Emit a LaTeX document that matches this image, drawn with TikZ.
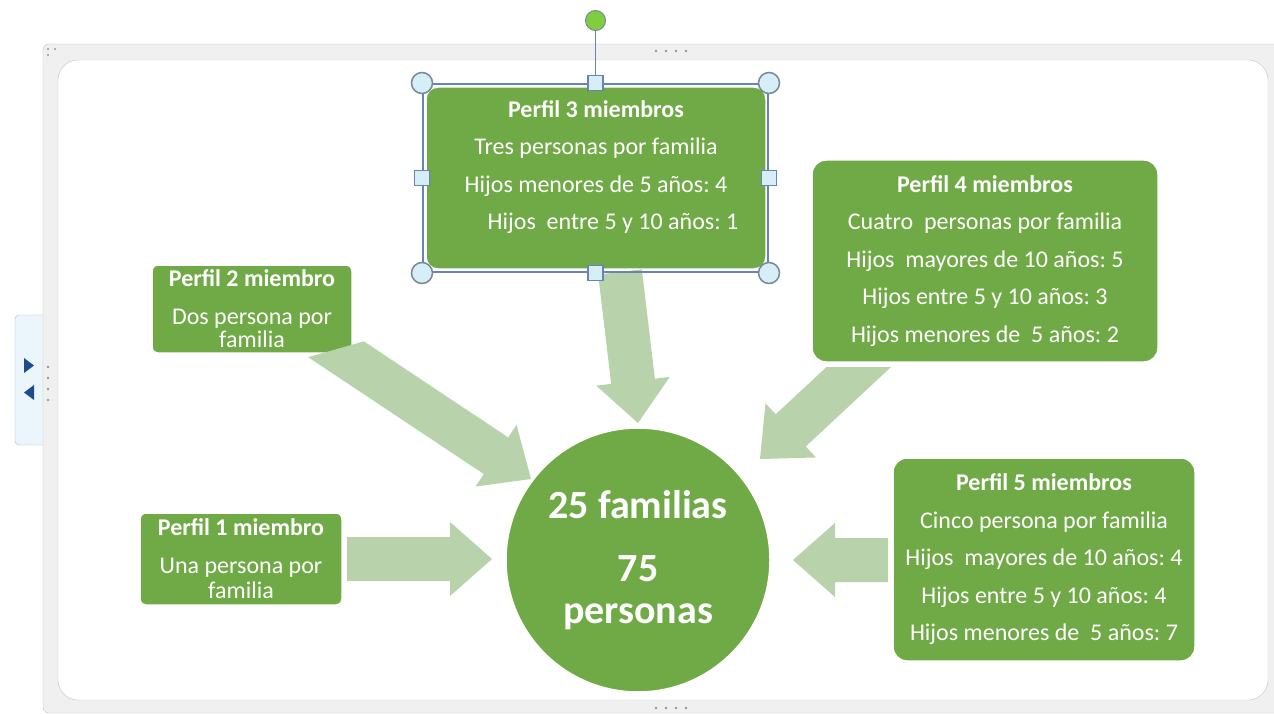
\documentclass[tikz,border=0pt]{standalone}
\usepackage{fontspec}
\setmainfont{Carlito}
\usetikzlibrary{positioning,calc}
\frenchspacing

\definecolor{boxgreen}{RGB}{112,170,70}
\definecolor{arrowgreen}{RGB}{184,210,171}
\definecolor{bandgray}{RGB}{240,240,240}
\definecolor{edgegray}{RGB}{196,196,196}
\definecolor{dotgray}{RGB}{150,150,150}
\definecolor{selblue}{RGB}{104,132,180}
\definecolor{handlefill}{RGB}{214,238,248}
\definecolor{handleedge}{RGB}{120,136,150}
\definecolor{tabfill}{RGB}{234,246,251}
\definecolor{tabedge}{RGB}{168,190,205}
\definecolor{tabblue}{RGB}{28,76,140}
\definecolor{rotgreen}{RGB}{128,206,64}

\newcommand\perfilfont{\fontsize{24}{37.5}\selectfont}
\newcommand\hubfont{\fontsize{40}{42}\selectfont\bfseries}

% block arrow from #1 to the tip #2
\newcommand\blockarrow[2]{%
  \coordinate (hb) at ($(#2)!42pt!(#1)$);
  \fill[arrowgreen] ($(#1)!22pt!90:(#2)$) -- ($(hb)!22pt!90:(#2)$)
    -- ($(hb)!37pt!90:(#2)$) -- (#2) -- ($(hb)!37pt!-90:(#2)$)
    -- ($(hb)!22pt!-90:(#2)$) -- ($(#1)!22pt!-90:(#2)$) -- cycle;
}

\begin{document}
\begin{tikzpicture}[x=1pt, y=-1pt,
    perfil/.style={rounded corners=12pt, fill=boxgreen, draw=white, line width=1.5pt,
      inner sep=0pt, text=white, align=center, font=\perfilfont},
    perfil text/.style={text=white, align=center, inner sep=0pt, font=\perfilfont},
    hub/.style={circle, fill=boxgreen, draw=white, line width=1.5pt, minimum size=264pt,
      inner sep=0pt, text=white, align=center, font=\hubfont},
    selframe/.style={draw=selblue, line width=2pt, inner sep=0pt},
    cornerhandle/.style={circle, draw=handleedge, fill=handlefill, line width=1.5pt,
      minimum size=21pt, inner sep=0pt},
    sidehandle/.style={draw=selblue, fill=handlefill, line width=1.5pt,
      minimum size=15pt, inner sep=0pt},
    rothandle/.style={circle, draw=handleedge, fill=rotgreen, line width=1pt,
      minimum size=20pt, inner sep=0pt}
  ]
  \useasboundingbox (0,0) rectangle (1274,714);
  \clip (0,0) rectangle (1274,714);
  \fill[white] (0,0) rectangle (1274,714);

  % side tab and frame
  \filldraw[fill=tabfill, draw=tabedge, rounded corners=4pt] (15,315) rectangle (50,445);
  \fill[tabblue] (24,358) -- (34,365.5) -- (24,373) -- cycle;
  \fill[tabblue] (34,385) -- (24,392.5) -- (34,400) -- cycle;
  \filldraw[fill=bandgray, draw=edgegray, rounded corners=6pt] (43,44) rectangle (1290,713);
  \filldraw[fill=white, draw=edgegray, rounded corners=20pt] (58,60) rectangle (1268,700);
  \foreach \x in {656,666,676,686} {
    \fill[dotgray] (\x,51) circle (1.3);
    \fill[dotgray] (\x,708) circle (1.3);
  }
  \foreach \y in {367,378,389,400}
    \fill[dotgray] (48,\y) circle (1.3);
  \fill[dotgray] (48,49) circle (1.2) (55,49) circle (1.2) (48,55) circle (1.2);

  % profiles
  \node[perfil, rounded corners=6pt, minimum width=202pt, minimum height=92pt] (p1) at (241,559)
    {\textbf{Perfil 1 miembro}\\Una persona por\\[-12pt]familia};
  \node[perfil, rounded corners=6pt, minimum width=200pt, minimum height=88pt] (p2) at (252,309)
    {\textbf{Perfil 2 miembro}\\Dos persona por\\[-14pt]familia};
  \node[perfil, minimum width=340pt, minimum height=182pt] (p3) at (596,178) {};
  \node[perfil text, below=14pt of p3.north] (p3 text)
    {\textbf{Perfil 3 miembros}\\Tres personas por familia\\Hijos menores de 5 años: 4\\
     \hspace*{34pt}Hijos~ entre 5 y 10 años: 1};
  \node[perfil, rounded corners=14pt, minimum width=346pt, minimum height=202pt] (p4) at (985,261)
    {\textbf{Perfil 4 miembros}\\Cuatro~ personas por familia\\Hijos~ mayores de 10 años: 5\\
     Hijos entre 5 y 10 años: 3\\Hijos menores de~ 5 años: 2};
  \node[perfil, rounded corners=14pt, minimum width=302pt, minimum height=203pt] (p5) at (1044,559.5)
    {\textbf{Perfil 5 miembros}\\Cinco persona por familia\\Hijos~ mayores de 10 años: 4\\
     Hijos entre 5 y 10 años: 4\\Hijos menores de~ 5 años: 7};
  \node[hub] (total) at (638,560) {25 familias\\[21pt]75\\personas};

  % arrows into the circle
  \coordinate (a1s) at (347,559);
  \coordinate (a1t) at (492,559);
  \coordinate (a2s) at (298,324);
  \coordinate (a2t) at (531,479);
  \coordinate (a3s) at (620,272);
  \coordinate (a3t) at (638,423);
  \coordinate (a4s) at (877,350);
  \coordinate (a4t) at (760,459);
  \coordinate (a5s) at (888,560);
  \coordinate (a5t) at (793,560);
  \blockarrow{a1s}{a1t}
  \begin{scope}
    \clip (290,362.4) -- (370,339.6) -- (600,339.6) -- (600,520) -- (290,520) -- cycle;
    \blockarrow{a2s}{a2t}
  \end{scope}
  \blockarrow{a3s}{a3t}
  \begin{scope}
    \clip (700,367) rectangle (950,480);
    \blockarrow{a4s}{a4t}
  \end{scope}
  \blockarrow{a5s}{a5t}

  % selection of the third profile
  \node[selframe, minimum width=345pt, minimum height=188pt] (sel) at (595.5,178) {};
  \node[rothandle, above=52pt of sel.north] (rot) {};
  \draw[selblue, line width=1.5pt] (rot.south) -- (sel.north);
  \foreach \a/\n in {north west/nw, north east/ne, south west/sw, south east/se}
    \node[cornerhandle] (h\n) at (sel.\a) {};
  \foreach \a/\n in {north/n, south/s, west/w, east/e}
    \node[sidehandle] (h\n) at (sel.\a) {};
\end{tikzpicture}
\end{document}
